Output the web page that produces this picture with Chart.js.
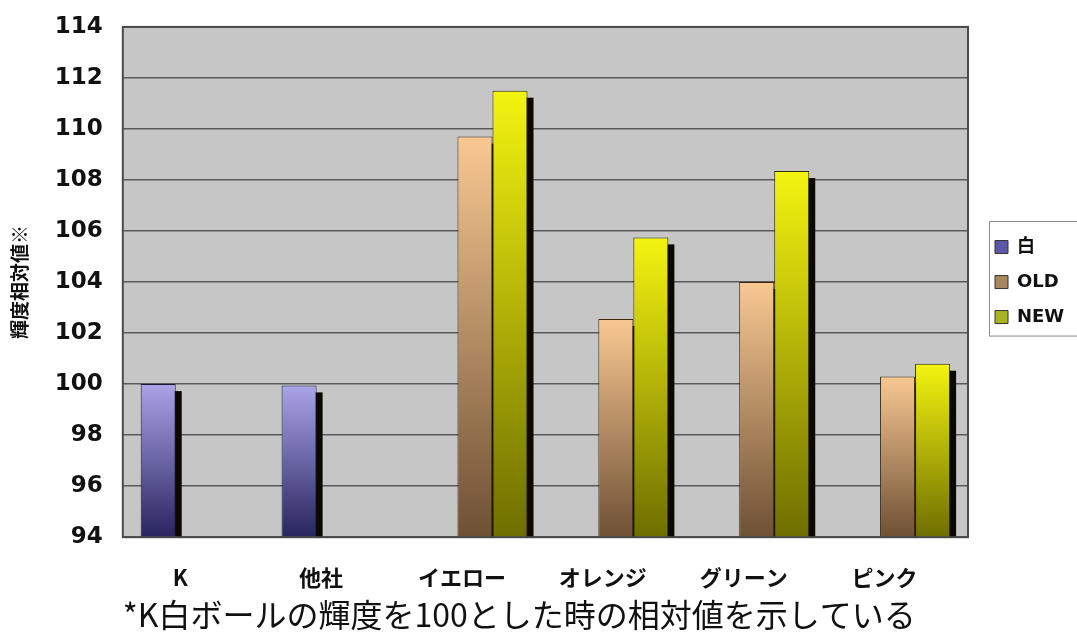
<!DOCTYPE html>
<html>
<head>
<meta charset="utf-8">
<script src="https://cdn.jsdelivr.net/npm/chart.js@4"></script>
<style>
    html, body { margin: 0; padding: 0; background: #fff; }
    #wrap { width: 1077px; height: 634px; }
</style>
</head>
<body>
<div id="wrap"><canvas id="lumChart"></canvas></div>
<script>
// データ
const categories = ['K', '他社', 'イエロー', 'オレンジ', 'グリーン', 'ピンク'];
const seriesNames = ['白', 'OLD', 'NEW'];
const whiteValues = [100.0, 99.95, null, null, null, null];
const oldValues = [null, null, 109.7, 102.55, 104.0, 100.3];
const newValues = [null, null, 111.5, 105.75, 108.35, 100.8];
const yTicks = [94, 96, 98, 100, 102, 104, 106, 108, 110, 112, 114];

const NUM_FONT = "'DejaVu Sans', 'Noto Sans CJK JP', sans-serif";
const JP_FONT = "'Noto Sans CJK JP', 'DejaVu Sans', sans-serif";
const LEGEND_WIDTH = 109;

// 棒ごとのグラデーション (上: 明るい / 下: 暗い)
function barGradient(top, bottom) {
    return (context) => {
        const chart = context.chart;
        const area = chart.chartArea;
        if (!area || context.raw == null) return bottom;
        const yTop = chart.scales.y.getPixelForValue(context.raw);
        const g = chart.ctx.createLinearGradient(0, yTop, 0, area.bottom);
        g.addColorStop(0, top);
        g.addColorStop(1, bottom);
        return g;
    };
}

// 棒の影 (右下にずらした黒い帯)
const barShadow = {
    id: 'barShadow',
    beforeDatasetsDraw(chart) {
        const ctx = chart.ctx;
        const a = chart.chartArea;
        ctx.save();
        ctx.beginPath();
        ctx.rect(a.left, a.top, a.right - a.left, a.bottom - a.top);
        ctx.clip();
        ctx.fillStyle = '#0a0800';
        chart.data.datasets.forEach((ds, i) => {
            chart.getDatasetMeta(i).data.forEach((bar, j) => {
                if (ds.data[j] == null) return;
                const p = bar.getProps(['x', 'y', 'base', 'width'], true);
                ctx.fillRect(p.x - p.width / 2 + 6, p.y + 7, p.width, p.base - p.y);
            });
        });
        ctx.restore();
    },
};

// 凡例の幅と位置
const legendSize = {
    id: 'legendSize',
    beforeLayout(chart) {
        const lg = chart.legend;
        if (!lg || lg._patched) return;
        const origFit = lg.fit;
        lg.fit = function () {
            origFit.call(this);
            this.width = LEGEND_WIDTH;
        };
        lg._patched = true;
    },
    afterLayout(chart) {
        const lg = chart.legend;
        if (!lg) return;
        lg.left += 10;
        lg.right += 10;
    },
};

// 凡例の枠
const legendFrame = {
    id: 'legendFrame',
    beforeDraw(chart) {
        const lg = chart.legend;
        if (!lg || !lg.legendHitBoxes || !lg.legendHitBoxes.length) return;
        const boxes = lg.legendHitBoxes;
        const first = boxes[0];
        const last = boxes[boxes.length - 1];
        const x0 = first.left - 5.5;
        const y0 = first.top - 16.5;
        const y1 = last.top + last.height + 10;
        const ctx = chart.ctx;
        ctx.save();
        ctx.fillStyle = '#ffffff';
        ctx.strokeStyle = '#8a8a8a';
        ctx.lineWidth = 1;
        ctx.fillRect(x0, y0, chart.width - x0 + 2, y1 - y0);
        ctx.strokeRect(x0, y0, chart.width - x0 + 2, y1 - y0);
        ctx.restore();
    },
};

// プロット背景
const plotBg = {
    id: 'plotBg',
    beforeDraw(chart) {
        const a = chart.chartArea;
        const ctx = chart.ctx;
        ctx.save();
        ctx.fillStyle = '#c6c6c6';
        ctx.fillRect(a.left, a.top, a.right - a.left, a.bottom - a.top);
        ctx.restore();
    },
    afterDraw(chart) {
        const a = chart.chartArea;
        const ctx = chart.ctx;
        ctx.save();
        ctx.strokeStyle = '#4a4a4a';
        ctx.lineWidth = 2;
        ctx.strokeRect(a.left, a.top, a.right - a.left, a.bottom - a.top);
        ctx.restore();
    },
};

const swatches = ['#5c58a8', '#a8875f', '#a9b422'];

new Chart(document.getElementById('lumChart'), {
    type: 'bar',
    data: {
        labels: categories,
        datasets: [
            {
                label: seriesNames[0],
                data: whiteValues,
                backgroundColor: barGradient('#aaa4e8', '#28245e'),
                borderColor: '#1c1838',
                borderWidth: 1,
            },
            {
                label: seriesNames[1],
                data: oldValues,
                backgroundColor: barGradient('#f8c892', '#6e5034'),
                borderColor: '#3a2a14',
                borderWidth: 1,
            },
            {
                label: seriesNames[2],
                data: newValues,
                backgroundColor: barGradient('#f4f410', '#6e6e00'),
                borderColor: '#2c2c00',
                borderWidth: 1,
            },
        ],
    },
    options: {
        responsive: true,
        maintainAspectRatio: false,
        animation: false,
        layout: {
            padding: { top: 0, right: 0, left: 8, bottom: 0 },
        },
        datasets: {
            bar: {
                categoryPercentage: 0.746,
                barPercentage: 1.0,
            },
        },
        scales: {
            x: {
                grid: { display: false, drawTicks: false },
                border: { display: false },
                ticks: {
                    color: '#111',
                    padding: 27,
                    labelOffset: -13,
                    font: { family: JP_FONT, size: 22, weight: 'bold' },
                },
                title: {
                    display: true,
                    align: 'start',
                    text: '*K白ボールの輝度を100とした時の相対値を示している',
                    color: '#111',
                    padding: { top: -22, bottom: 0 },
                    font: { family: JP_FONT, size: 32 },
                },
            },
            y: {
                min: 94,
                max: 114,
                afterBuildTicks: (axis) => {
                    axis.ticks = yTicks.map(v => ({ value: v }));
                },
                grid: {
                    color: '#5a5a5a',
                    lineWidth: 1.5,
                    drawTicks: false,
                },
                border: { display: false },
                ticks: {
                    color: '#111',
                    padding: 20,
                    font: { family: NUM_FONT, size: 23, weight: 'bold', lineHeight: 0.6 },
                },
                title: {
                    display: true,
                    text: '輝度相対値※',
                    color: '#111',
                    padding: { top: 0, bottom: 4 },
                    font: { family: JP_FONT, size: 19, weight: 'bold' },
                },
            },
        },
        plugins: {
            legend: {
                position: 'right',
                align: 'center',
                fullSize: false,
                labels: {
                    boxWidth: 13,
                    boxHeight: 13,
                    padding: 17,
                    color: '#111',
                    font: { family: NUM_FONT, size: 18, weight: 'bold' },
                    generateLabels: (chart) => chart.data.datasets.map((ds, i) => ({
                        text: ds.label,
                        fillStyle: swatches[i],
                        strokeStyle: '#333',
                        lineWidth: 1,
                        datasetIndex: i,
                        fontColor: '#111',
                    })),
                },
            },
            tooltip: { enabled: false },
        },
    },
    plugins: [legendSize, plotBg, legendFrame, barShadow],
});
</script>
</body>
</html>
